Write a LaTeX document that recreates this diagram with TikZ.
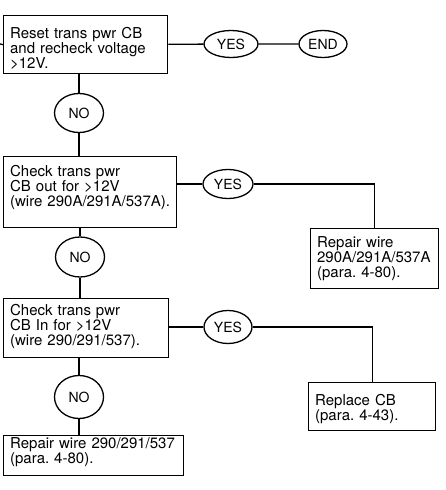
\documentclass[tikz,border=0pt]{standalone}
\usepackage{fontspec}
\setmainfont{TeX Gyre Heros}
\usetikzlibrary{shapes.geometric}
\frenchspacing

\tikzset{
  stepbox/.style={draw, line width=1.3pt, anchor=north west, inner xsep=6.5pt, inner ysep=0pt,
    align=left, font=\fontsize{15}{14.7}\selectfont},
  answer/.style={draw, ellipse, line width=1.3pt, inner sep=0pt, minimum width=50pt,
    minimum height=29pt, font=\fontsize{14}{14}\selectfont},
  flow/.style={line width=1.3pt}
}

\begin{document}
\begin{tikzpicture}[x=1pt,y=-1pt]
\useasboundingbox[fill=white] (0,0) rectangle (446,490);
% first check
\coordinate (entry) at (0,44);
\node[stepbox, text width=151pt, text height=23pt, text depth=35pt] (reset) at (3,15) {Reset trans pwr CB\\and recheck voltage\\>12V.};
\node[answer, minimum width=54pt, minimum height=27pt] (yesA) at (231,44) {YES};
\node[answer, minimum width=48pt, minimum height=27pt] (finish) at (323,44) {END};
\node[answer, minimum width=49pt, minimum height=39pt] (noA) at (79,113) {NO};
% CB out
\node[stepbox, text width=160pt, text height=20pt, text depth=51pt] (checkout) at (3,156) {Check trans pwr\\CB out for >12V\\(wire 290A/291A/537A).};
\node[answer] (yesB) at (228,184) {YES};
\node[stepbox, text width=115pt, text height=19pt, text depth=41pt] (repairA) at (310,228) {Repair wire\\290A/291A/537A\\(para. 4-80).};
\node[answer, minimum width=49pt, minimum height=40pt] (noB) at (80,257) {NO};
% CB in
\node[stepbox, text width=152pt, text height=17pt, text depth=42pt] (checkin) at (3,298) {Check trans pwr\\CB In for >12V\\(wire 290/291/537).};
\node[answer, minimum width=48pt, minimum height=33pt] (yesC) at (228,327) {YES};
\node[stepbox, text width=114pt, text height=23pt, text depth=25pt] (replace) at (308,382) {Replace CB\\(para. 4-43).};
\node[answer, minimum width=49pt, minimum height=43pt] (noC) at (79,397) {NO};
\node[stepbox, text width=167pt, text height=13pt, text depth=27pt] (repairB) at (3,435) {\mbox{Repair wire 290/291/537}\\(para. 4-80).};
% connectors
\draw[flow] (entry) -- (reset.west);
\draw[flow] (reset) -- (yesA) -- (finish);
\draw[flow] (reset.south -| noA) -- (noA) -- (noA |- checkout.north);
\draw[flow] (yesB.west -| checkout.east) -- (yesB);
\draw[flow] (yesB) -| (repairA);
\draw[flow] (checkout.south -| noB) -- (noB) -- (noB |- checkin.north);
\draw[flow] (yesC.west -| checkin.east) -- (yesC);
\draw[flow] (yesC) -| (replace);
\draw[flow] (checkin.south -| noC) -- (noC) -- (noC |- repairB.north);
\end{tikzpicture}
\end{document}
